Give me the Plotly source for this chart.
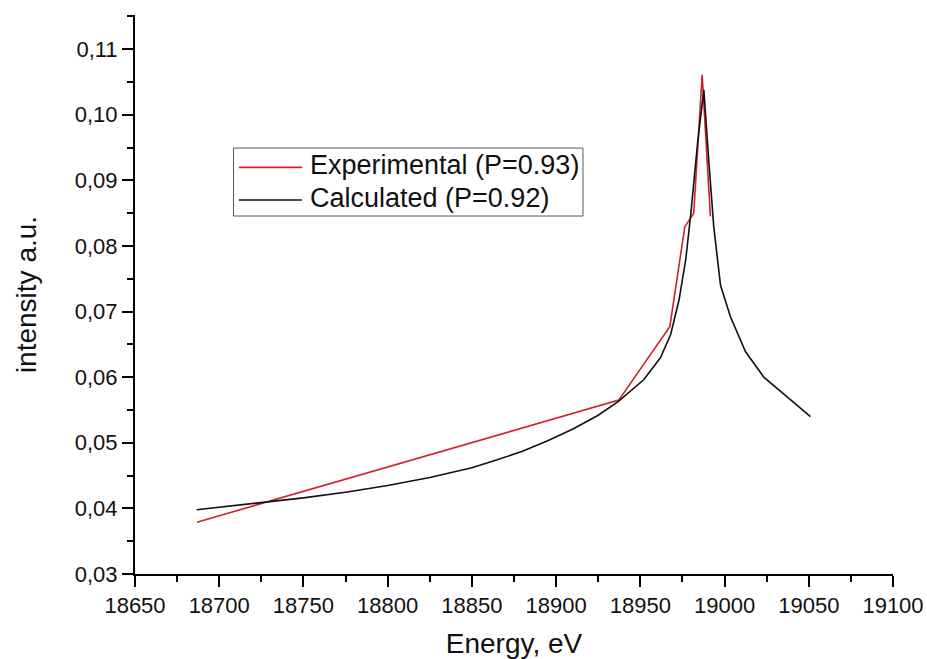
import plotly.graph_objects as go

# ---- data ----
exp_x = [18686.8, 18937.2, 18967.5, 18976.4, 18981.7, 18986.7, 18991.6]
exp_y = [0.0379, 0.0565, 0.0677, 0.0829, 0.0850, 0.1061, 0.0845]

calc_x = [18686.6, 18705, 18726, 18750, 18776, 18800, 18825, 18850, 18865, 18880,
          18895, 18910, 18925, 18937, 18952, 18962, 18968, 18973, 18977, 18980, 18984,
          18987.7, 18990.6, 18993.6, 18997.6, 19003.5, 19012.4, 19023.3, 19051]
calc_y = [0.0398, 0.0403, 0.0409, 0.0416, 0.0425, 0.0435, 0.0447, 0.0462, 0.0474, 0.0487,
          0.0503, 0.0521, 0.0542, 0.0563, 0.0596, 0.0630, 0.0665, 0.0718, 0.0780, 0.0850, 0.0957,
          0.1038, 0.0931, 0.0829, 0.0740, 0.0692, 0.0639, 0.0600, 0.0540]

x_ticks = [18650, 18700, 18750, 18800, 18850, 18900, 18950, 19000, 19050, 19100]
x_ticklabels = ["18650", "18700", "18750", "18800", "18850", "18900", "18950", "19000", "19050", "19100"]
y_ticks = [0.03, 0.04, 0.05, 0.06, 0.07, 0.08, 0.09, 0.10, 0.11]
y_ticklabels = ["0,03", "0,04", "0,05", "0,06", "0,07", "0,08", "0,09", "0,10", "0,11"]

series_names = ["Experimental (P=0.93)", "Calculated (P=0.92)"]
series_colors = ["#d0202a", "#111111"]

FONT = "Liberation Sans, Arial, sans-serif"

fig = go.Figure()
fig.add_trace(go.Scatter(x=exp_x, y=exp_y, mode="lines", name=series_names[0],
                         line=dict(color=series_colors[0], width=1.6), showlegend=False))
fig.add_trace(go.Scatter(x=calc_x, y=calc_y, mode="lines", name=series_names[1],
                         line=dict(color=series_colors[1], width=1.6), showlegend=False))

# manual legend (box, sample lines, text) in paper coordinates
fig.add_shape(type="rect", xref="paper", yref="paper", x0=0.1300, x1=0.5910, y0=0.6404, y1=0.7620,
              line=dict(color="#555555", width=1), fillcolor="rgba(0,0,0,0)")
row_y = [0.7275, 0.6690]
for i in range(2):
    fig.add_shape(type="line", xref="paper", yref="paper", x0=0.1370, x1=0.2203,
                  y0=row_y[i], y1=row_y[i], line=dict(color=series_colors[i], width=1.6))
    fig.add_annotation(xref="paper", yref="paper", x=0.2280, y=row_y[i] + 0.004, xanchor="left",
                       yanchor="middle", text=series_names[i], showarrow=False,
                       font=dict(family=FONT, size=27, color="#111111"))

fig.update_layout(
    width=927, height=659,
    margin=dict(l=135, r=34, t=15, b=85),
    paper_bgcolor="white", plot_bgcolor="white",
    font=dict(family=FONT, color="#111111"),
)
fig.update_xaxes(
    range=[18650, 19100], tickmode="array", tickvals=x_ticks, ticktext=x_ticklabels,
    showgrid=False, zeroline=False, showline=True, linecolor="black", linewidth=2,
    ticks="outside", ticklen=11, tickwidth=2, tickcolor="black",
    tickfont=dict(family=FONT, size=22, color="#111111"),
    minor=dict(tickmode="linear", tick0=18675, dtick=50, ticks="outside", ticklen=6, tickwidth=2, tickcolor="black", showgrid=False),
    title=dict(text="Energy, eV", font=dict(family=FONT, size=28, color="#111111"), standoff=17),
    automargin=False,
)
fig.update_yaxes(
    range=[0.03, 0.1152], tickmode="array", tickvals=y_ticks, ticktext=y_ticklabels,
    showgrid=False, zeroline=False, showline=True, linecolor="black", linewidth=2,
    ticks="outside", ticklen=11, tickwidth=2, tickcolor="black",
    tickfont=dict(family=FONT, size=22, color="#111111"),
    minor=dict(tickmode="linear", tick0=0.035, dtick=0.01, ticks="outside", ticklen=6, tickwidth=2, tickcolor="black", showgrid=False),
    title=dict(text="intensity a.u.", font=dict(family=FONT, size=28, color="#111111"), standoff=30),
    automargin=False,
)

fig.write_html("out.html")
